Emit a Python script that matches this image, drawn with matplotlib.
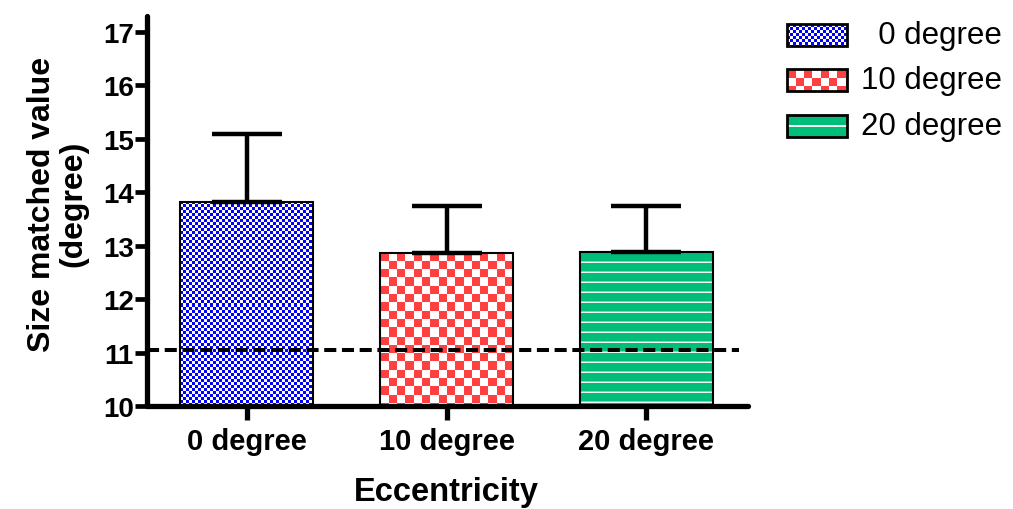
import numpy as np
import matplotlib
matplotlib.use("Agg")
import matplotlib.pyplot as plt
from matplotlib.patches import Rectangle

plt.rcParams["font.family"] = ["Liberation Sans", "DejaVu Sans"]

# ---- data -----------------------------------------------------------------
categories = ["0 degree", "10 degree", "20 degree"]
legend_labels = ["  0 degree", "10 degree", "20 degree"]
means = [13.82, 12.87, 12.88]
errors = [1.28, 0.87, 0.86]
reference_level = 11.04
yticks = [10, 11, 12, 13, 14, 15, 16, 17]

# fill textures: (kind, fill colour, cell / period in px)
textures = [
    ("checker", (0, 0, 255), 3),
    ("checker", (255, 64, 64), 8.3),
    ("stripes", (0, 190, 122), 10),
]


def make_texture(kind, rgb, cell, w, h):
    """Build an RGB pixel array of a fill pattern, w x h pixels."""
    w, h = max(int(round(w)), 1), max(int(round(h)), 1)
    col = np.array(rgb) / 255.0
    img = np.ones((h, w, 3))
    rows, cols = np.indices((h, w))
    if kind == "checker":
        mask = ((rows // cell).astype(int) + (cols // cell).astype(int)) % 2 == 0
        img[mask] = col
    else:
        img[:] = col
        phase = rows % int(cell)
        img[phase == 0] = [0.93, 0.98, 0.95]
        img[phase == int(cell) - 1] = col * 0.55 + 0.45
    return img


fig = plt.figure(figsize=(10.13, 5.10), dpi=100)
ax = fig.add_axes([147 / 1013, 103 / 510, 601 / 1013, 390 / 510])

x = np.arange(len(categories))
ax.set_xlim(-0.5, 2.51)
ax.set_ylim(10, 17.3)

bars = ax.bar(x, np.array(means) - 10, bottom=10, width=0.665,
              facecolor="none", edgecolor="black", linewidth=1.5, zorder=3)

# paint each bar with its texture, clipped to the bar outline
for bar, (kind, rgb, cell) in zip(bars, textures):
    x0, y0 = bar.get_x(), bar.get_y()
    x1, y1 = x0 + bar.get_width(), y0 + bar.get_height()
    p0 = ax.transData.transform((x0, y0))
    p1 = ax.transData.transform((x1, y1))
    img = make_texture(kind, rgb, cell, abs(p1[0] - p0[0]), abs(p1[1] - p0[1]))
    im = ax.imshow(img, extent=(x0, x1, y0, y1), interpolation="nearest",
                   aspect="auto", zorder=2)
    im.set_clip_path(bar)

ax.errorbar(x, means, yerr=[np.zeros(len(means)), errors], fmt="none",
            ecolor="black", elinewidth=3.2, capsize=25, capthick=3.2, zorder=4)

ax.axhline(reference_level, xmin=0.0, xmax=0.985, color="black",
           linestyle=(0, (3.0, 1.4)), linewidth=2.9, zorder=5)

# ---- axes styling ---------------------------------------------------------
for side in ("top", "right"):
    ax.spines[side].set_visible(False)
for side in ("left", "bottom"):
    ax.spines[side].set_linewidth(3.8)
    ax.spines[side].set_capstyle("round")

ax.set_yticks(yticks)
ax.set_xticks(x)
ax.set_xticklabels(categories)
ax.tick_params(axis="y", direction="out", length=9, width=3.4, pad=0.5,
               labelsize=20)
ax.tick_params(axis="x", direction="out", length=10, width=3.8, pad=5,
               labelsize=21)
for lab in ax.get_xticklabels() + ax.get_yticklabels():
    lab.set_fontweight("bold")

ax.set_xlabel("Eccentricity", fontsize=23.5, fontweight="bold")
ax.xaxis.set_label_coords(0.498, -0.18)
ax.set_ylabel("Size matched value\n(degree)", fontsize=23, fontweight="bold",
              linespacing=1.05)
ax.yaxis.set_label_coords(-0.098, 0.52)

# ---- legend, drawn in figure pixel space -----------------------------------
lg = fig.add_axes([0, 0, 1, 1], zorder=10)
lg.axis("off")
row_y = [36, 81, 127]
sw_x0, sw_w, sw_h = 787, 60, 22
for yc, (kind, rgb, cell), label in zip(row_y, textures, legend_labels):
    top = yc - sw_h / 2
    if kind == "stripes":
        img = np.ones((sw_h, sw_w, 3)) * np.array(rgb) / 255.0
        img[sw_h // 2 - 1:sw_h // 2 + 1] = [0.93, 0.98, 0.95]
    else:
        img = make_texture(kind, rgb, cell, sw_w, sw_h)
    lg.imshow(img, extent=(sw_x0, sw_x0 + sw_w, top + sw_h, top),
              interpolation="nearest", aspect="auto")
    lg.add_patch(Rectangle((sw_x0, top), sw_w, sw_h, facecolor="none",
                           edgecolor="black", linewidth=2))
    lg.text(1002, yc, label, fontsize=22.5, ha="right", va="center")
lg.set_xlim(0, 1013)
lg.set_ylim(510, 0)

fig.savefig("out.png", dpi=100)
